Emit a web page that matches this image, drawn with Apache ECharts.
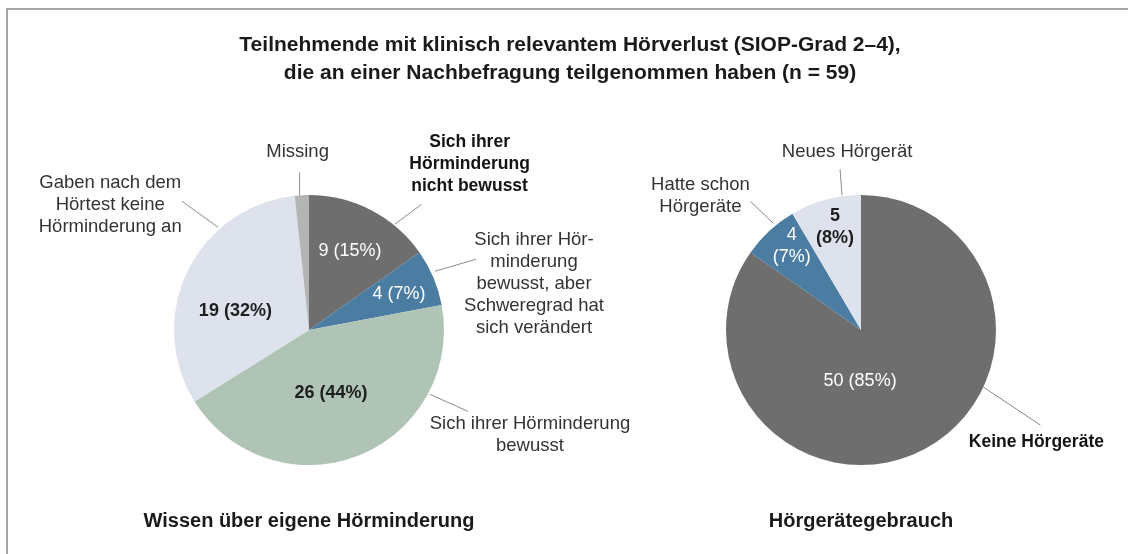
<!DOCTYPE html>
<html>
<head>
<meta charset="utf-8">
<script src="https://cdn.jsdelivr.net/npm/echarts@6/dist/echarts.min.js"></script>
<style>
html,body{margin:0;padding:0;background:#fff;}
#chart{width:1128px;height:554px;}
#frame{position:absolute;left:6px;top:8px;right:0;bottom:0;border-left:2px solid #a5a5a5;border-top:2px solid #a5a5a5;pointer-events:none;}
</style>
</head>
<body>
<div id="chart"></div>
<div id="frame"></div>
<script>
// ---------- data ----------
const titleLines = [
  'Teilnehmende mit klinisch relevantem Hörverlust (SIOP-Grad 2–4),',
  'die an einer Nachbefragung teilgenommen haben (n = 59)'
];
const leftTitle = 'Wissen über eigene Hörminderung';
const rightTitle = 'Hörgerätegebrauch';

const leftNames = [
  'Sich ihrer\nHörminderung\nnicht bewusst',
  'Sich ihrer Hör-\nminderung\nbewusst, aber\nSchweregrad hat\nsich verändert',
  'Sich ihrer Hörminderung\nbewusst',
  'Gaben nach dem\nHörtest keine\nHörminderung an',
  'Missing'
];
const leftValues = [9, 4, 26, 19, 1];

const rightNames = [
  'Keine Hörgeräte',
  'Hatte schon\nHörgeräte',
  'Neues Hörgerät'
];
const rightValues = [50, 4, 5];

// ---------- styles ----------
const FONT = "'Liberation Sans', Arial, sans-serif";
const leftColors = ['#6e6e6e', '#4b7ca1', '#b0c4b5', '#dee2ec', '#b3b5b5'];
const rightColors = ['#6e6e6e', '#4b7ca1', '#dee2ec'];
const leftBold = [true, false, false, false, false];
const rightBold = [true, false, false];
// inner value label: text color, bold, line break between count and percent, placement (angle from 12 o'clock, radius)
const leftInner = [
  {color: '#fff', bold: false, br: false, ang: 27.4, r: 89},
  {color: '#fff', bold: false, br: false, ang: 68.2, r: 97},
  {color: '#1e1e1e', bold: true, br: false, ang: 160.8, r: 67},
  {color: '#1e1e1e', bold: true, br: false, ang: 284.4, r: 76},
  null
];
const rightInner = [
  {color: '#fff', bold: false, br: false, ang: 181, r: 51},
  {color: '#fff', bold: false, br: true, ang: 320.6, r: 109},
  {color: '#1e1e1e', bold: true, br: true, ang: 345.8, r: 106}
];
// outer label: leader start (angle, radius), leader vector, text offset from leader end
const leftOuter = [
  {ang: 39, r: 136, line: [27, -20], text: [48, -40]},
  {ang: 65, r: 139, line: [41, -12], text: [58, 25]},
  {ang: 118, r: 137, line: [38, 17], text: [62, 24]},
  {ang: 318.5, r: 137, line: [-36, -26], text: [-72, 4]},
  {ang: 356, r: 135, line: [0, -23], text: [-2, -20]}
];
const rightOuter = [
  {ang: 115, r: 135, line: [57, 38], text: [-4, 17]},
  {ang: 320.6, r: 138, line: [-23, -22], text: [-50, -5]},
  {ang: 352, r: 136, line: [-2, -26], text: [7, -17]}
];
const leftCenter = [309, 330];
const rightCenter = [861, 330];
const RADIUS = 135;

function polar(c, angDeg, r) {
  const a = angDeg * Math.PI / 180;
  return [c[0] + r * Math.sin(a), c[1] - r * Math.cos(a)];
}

function innerSeries(names, values, colors, inner, center) {
  return {
    type: 'pie', center: center, radius: RADIUS, startAngle: 90, clockwise: true,
    avoidLabelOverlap: false, silent: true, animation: false,
    itemStyle: {borderWidth: 0},
    labelLine: {show: false},
    data: names.map((n, i) => ({
      name: n, value: values[i],
      itemStyle: {color: colors[i]},
      label: inner[i] ? {
        show: true, position: 'inside',
        color: inner[i].color, fontWeight: inner[i].bold ? 'bold' : 'normal',
        fontFamily: FONT, fontSize: 18, lineHeight: 22,
        formatter: p => p.value + (inner[i].br ? '\n' : ' ') + '(' + Math.round(p.percent) + '%)'
      } : {show: false}
    })),
    labelLayout: function (params) {
      const s = inner[params.dataIndex];
      if (!s) return {};
      const p = polar(center, s.ang, s.r);
      return {x: p[0], y: p[1], align: 'center', verticalAlign: 'middle'};
    }
  };
}

function outerSeries(names, values, bold, outer, center) {
  return {
    type: 'pie', center: center, radius: RADIUS, startAngle: 90, clockwise: true,
    avoidLabelOverlap: false, silent: true, animation: false,
    itemStyle: {color: 'rgba(0,0,0,0)', borderWidth: 0},
    labelLine: {show: true, length: 10, length2: 0, lineStyle: {color: '#8a8a8a', width: 1}},
    data: names.map((n, i) => ({
      name: n, value: values[i],
      label: {
        show: true, position: 'outside', formatter: '{b}',
        width: 240, overflow: 'none', align: 'center',
        color: bold[i] ? '#141414' : '#333333',
        fontWeight: bold[i] ? 'bold' : 'normal',
        fontFamily: FONT, fontSize: bold[i] ? 17.5 : 18.5, lineHeight: 22
      }
    })),
    labelLayout: function (params) {
      const s = outer[params.dataIndex];
      const p0 = polar(center, s.ang, s.r);
      const p1 = [p0[0] + s.line[0], p0[1] + s.line[1]];
      return {
        x: p1[0] + s.text[0], y: p1[1] + s.text[1],
        align: 'center', verticalAlign: 'middle',
        labelLinePoints: [p0, p1]
      };
    }
  };
}

const chart = echarts.init(document.getElementById('chart'), null, {renderer: 'canvas'});
chart.setOption({
  backgroundColor: '#ffffff',
  animation: false,
  title: [
    {text: titleLines.join('\n'), left: 570, top: 31, padding: 0, textAlign: 'center',
     textStyle: {fontFamily: FONT, fontSize: 21, fontWeight: 'bold', lineHeight: 28, color: '#1a1a1a'}},
    {text: leftTitle, left: 309, top: 509, padding: 0, textAlign: 'center',
     textStyle: {fontFamily: FONT, fontSize: 20, fontWeight: 'bold', lineHeight: 24, color: '#1a1a1a'}},
    {text: rightTitle, left: 861, top: 509, padding: 0, textAlign: 'center',
     textStyle: {fontFamily: FONT, fontSize: 20, fontWeight: 'bold', lineHeight: 24, color: '#1a1a1a'}}
  ],
  series: [
    innerSeries(leftNames, leftValues, leftColors, leftInner, leftCenter),
    outerSeries(leftNames, leftValues, leftBold, leftOuter, leftCenter),
    innerSeries(rightNames, rightValues, rightColors, rightInner, rightCenter),
    outerSeries(rightNames, rightValues, rightBold, rightOuter, rightCenter)
  ]
});
</script>
</body>
</html>
